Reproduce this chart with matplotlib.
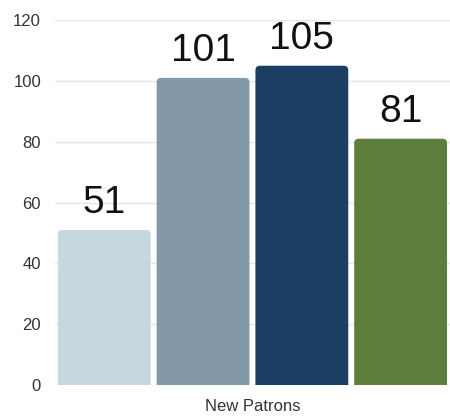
import matplotlib
matplotlib.use('Agg')
from matplotlib import pyplot as plt
from matplotlib.patches import FancyBboxPatch

# data
category = 'New Patrons'
values = [51, 101, 105, 81]
colors = ['#c5d7df', '#8399a8', '#1a3f63', '#5e7e3e']
yticks = [0, 20, 40, 60, 80, 100, 120]

plt.rcParams['font.family'] = ['Liberation Sans', 'DejaVu Sans']

fig = plt.figure(figsize=(4.5, 4.19), dpi=100)
ax = fig.add_axes([0.122, 0.081, 0.878, 0.871])

positions = list(range(len(values)))
bars = ax.bar(positions, values, width=0.94, color=colors)

ax.set_xlim(-0.5, len(values) - 0.5)
ax.set_ylim(0, 120)

# rounded top corners: replace rectangles with rounded boxes extended below 0
pxPerX = 0.878 * 450 / len(values)
pxPerY = 0.871 * 419 / 120
r = 4.5 / pxPerX
for b, c in zip(bars, colors):
    b.set_visible(False)
    x0, w, h = b.get_x(), b.get_width(), b.get_height()
    patch = FancyBboxPatch((x0, -5), w, h + 5,
                           boxstyle='round,pad=0,rounding_size=%f' % r,
                           mutation_aspect=(4.5 / pxPerY) / r,
                           facecolor=c, edgecolor='none', zorder=2)
    ax.add_patch(patch)

for p, v in zip(positions, values):
    ax.annotate(str(v), (p, v), xytext=(0, 12), textcoords='offset points',
                ha='center', va='baseline', fontsize=28, color='#111111')

ax.set_yticks(yticks)
ax.set_xticks([(len(values) - 1) / 2])
ax.set_xticklabels([category])
ax.tick_params(axis='both', length=0, labelsize=12, colors='#333333')
ax.tick_params(axis='y', pad=10)
ax.tick_params(axis='x', pad=10)
ax.yaxis.grid(True, color='#e6e6e6', linewidth=1)
ax.set_axisbelow(True)
for s in ax.spines.values():
    s.set_visible(False)

plt.savefig('out.png', dpi=100)
